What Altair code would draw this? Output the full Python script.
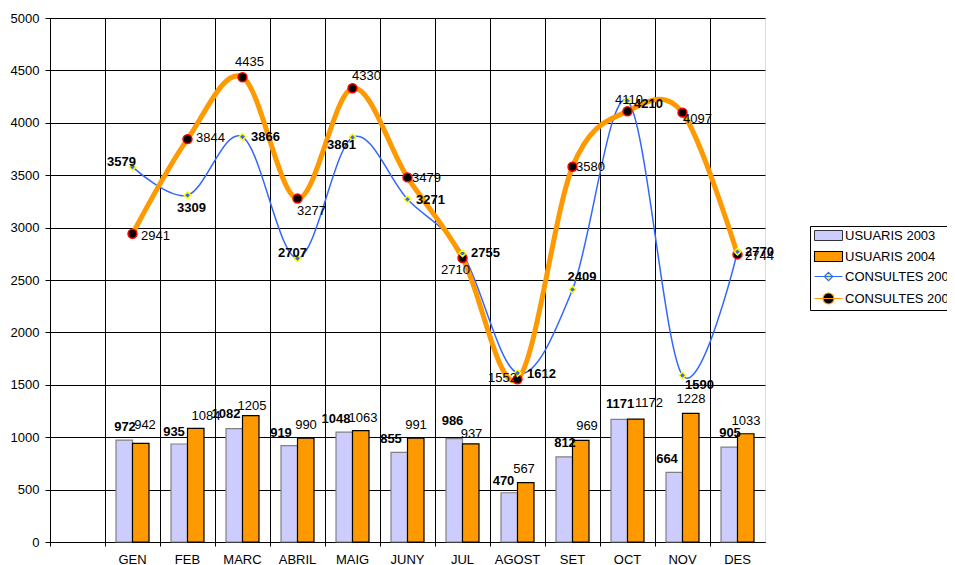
import altair as alt
import pandas as pd

# ---------------- data ----------------
months = ["GEN", "FEB", "MARC", "ABRIL", "MAIG", "JUNY", "JUL", "AGOST", "SET", "OCT", "NOV", "DES"]
usuaris_2003 = [972, 935, 1082, 919, 1048, 855, 986, 470, 812, 1171, 664, 905]
usuaris_2004 = [942, 1084, 1205, 990, 1063, 991, 937, 567, 969, 1172, 1228, 1033]
consultes_2003 = [3579, 3309, 3866, 2707, 3861, 3271, 2755, 1612, 2409, 4210, 1590, 2770]
consultes_2004 = [2941, 3844, 4435, 3277, 4330, 3479, 2710, 1552, 3580, 4110, 4097, 2744]
series_names = ["USUARIS 2003", "USUARIS 2004", "CONSULTES 2003", "CONSULTES 2004"]
y_ticks = [0, 500, 1000, 1500, 2000, 2500, 3000, 3500, 4000, 4500, 5000]
blank_category = " "

# ---------------- label placement (style, pixels relative to the point) ----------------
bar_lab_dx_2003 = [-7.5, -13.5, -16.5, -16.5, -16.5, -16.5, -10, -14, -7.5, -7.5, -15.5, -7.5]
bar_lab_dy_2003 = [-13, -12, -15, -13, -13, -13, -18, -12, -14, -15, -13, -14]
bar_lab_dx_2004 = [12.5, 18.5, 9.5, 8.5, 10.5, 8.5, 9, 6.5, 14.5, 21.5, 8.5, 8.5]
bar_lab_dy_2004 = [-18, -12, -10, -13, -13, -13, -10, -14, -14, -16, -14, -13]
line_lab_al_2003 = ["right", "center", "left", "right", "right", "left", "left", "left", "center", "left", "left", "left"]
line_lab_dx_2003 = [3.5, 4, 8.5, 9.5, 3.5, 8.5, 8.5, 9.5, 9.5, 6.5, 2.5, 7.5]
line_lab_dy_2003 = [-5, 13, 0, -5, 8, 1, 0, 1, -12.5, 3, 10, 0]
line_lab_al_2004 = ["left", "left", "center", "left", "left", "left", "right", "right", "left", "center", "left", "left"]
line_lab_dx_2004 = [8.5, 8.5, 7, -0.5, -0.5, 4.5, 7.5, -0.5, 3.5, 1.5, 0.5, 7.5]
line_lab_dy_2004 = [2, -1, -15, 12, -12, 1, 12, -1, 0, -11, 6, 2]

FONT = "Liberation Sans"
C_U03 = "#CCCCFF"
C_U04 = "#FF9900"
C_L03 = "#3366FF"
C_L04 = "#FF9900"

bars_df = pd.DataFrame({
    "month": months * 2,
    "series": [series_names[0]] * 12 + [series_names[1]] * 12,
    "value": usuaris_2003 + usuaris_2004,
    "dx": bar_lab_dx_2003 + bar_lab_dx_2004,
    "dy": bar_lab_dy_2003 + bar_lab_dy_2004,
})
lines_df = pd.DataFrame({
    "month": months * 2,
    "series": [series_names[2]] * 12 + [series_names[3]] * 12,
    "value": consultes_2003 + consultes_2004,
    "al": line_lab_al_2003 + line_lab_al_2004,
    "dx": line_lab_dx_2003 + line_lab_dx_2004,
    "dy": line_lab_dy_2003 + line_lab_dy_2004,
})
legend_df = pd.DataFrame({"series": series_names})

x_enc = alt.X(
    "month:N",
    scale=alt.Scale(domain=[blank_category] + months, paddingInner=0, paddingOuter=0),
    axis=alt.Axis(title=None, bandPosition=0, grid=True, gridColor="black", gridOpacity=1,
                  domainColor="black", tickColor="black", tickSize=4, labelPadding=7,
                  labelFont=FONT, labelFontSize=13, labelColor="black", labelAngle=0),
)
x_plain = alt.X("month:N")
y_enc = alt.Y(
    "value:Q",
    scale=alt.Scale(domain=[0, 5000], nice=False),
    axis=alt.Axis(title=None, values=y_ticks, format="d", grid=True, gridColor="black", gridOpacity=1,
                  domainColor="black", tickColor="black", tickSize=5, labelPadding=6,
                  labelFont=FONT, labelFontSize=13, labelColor="black"),
)
y_plain = alt.Y("value:Q")

is03 = "datum.series == 'USUARIS 2003'"

bars = alt.Chart(bars_df).mark_bar(strokeWidth=1.2).encode(
    x=x_enc,
    y=y_enc,
    xOffset=alt.XOffset("series:N", scale=alt.Scale(domain=series_names[:2], paddingInner=0, paddingOuter=0.667)),
    fill=alt.condition(is03, alt.value(C_U03), alt.value(C_U04)),
    stroke=alt.condition(is03, alt.value("#808080"), alt.value("black")),
)

bar_text_03 = alt.Chart(bars_df).transform_filter(is03).mark_text(
    font=FONT, fontSize=13, fontWeight="bold", color="black", baseline="middle",
    dx=alt.expr("datum.dx"), dy=alt.expr("datum.dy"),
).encode(x=x_plain, y=y_plain, text=alt.Text("value:Q", format="d"))

bar_text_04 = alt.Chart(bars_df).transform_filter("!(" + is03 + ")").mark_text(
    font=FONT, fontSize=13, color="black", baseline="middle",
    dx=alt.expr("datum.dx"), dy=alt.expr("datum.dy"),
).encode(x=x_plain, y=y_plain, text=alt.Text("value:Q", format="d"))

f03 = "datum.series == 'CONSULTES 2003'"
f04 = "datum.series == 'CONSULTES 2004'"

line03 = alt.Chart(lines_df).transform_filter(f03).mark_line(
    interpolate="cardinal", color=C_L03, strokeWidth=1.5
).encode(x=x_plain, y=y_plain)
line04 = alt.Chart(lines_df).transform_filter(f04).mark_line(
    interpolate="cardinal", color=C_L04, strokeWidth=5
).encode(x=x_plain, y=y_plain)
pts04 = alt.Chart(lines_df).transform_filter(f04).mark_point(
    shape="circle", filled=True, fill="black", stroke="#FF0000", strokeWidth=1.5, size=80, opacity=1
).encode(x=x_plain, y=y_plain)
pts03 = alt.Chart(lines_df).transform_filter(f03).mark_point(
    shape="diamond", filled=True, fill=C_L03, stroke="#FFFF00", strokeWidth=1.5, size=45, opacity=1
).encode(x=x_plain, y=y_plain)

line_text_03 = alt.Chart(lines_df).transform_filter(f03).mark_text(
    font=FONT, fontSize=13, fontWeight="bold", color="black", baseline="middle",
    align=alt.expr("datum.al"), dx=alt.expr("datum.dx"), dy=alt.expr("datum.dy"),
).encode(x=x_plain, y=y_plain, text=alt.Text("value:Q", format="d"))
line_text_04 = alt.Chart(lines_df).transform_filter(f04).mark_text(
    font=FONT, fontSize=13, color="black", baseline="middle",
    align=alt.expr("datum.al"), dx=alt.expr("datum.dx"), dy=alt.expr("datum.dy"),
).encode(x=x_plain, y=y_plain, text=alt.Text("value:Q", format="d"))

# legend symbols: custom paths (unit = 5 px at symbolSize 100), 28 px wide
legend_paths = [
    "M-1,-1L4.6,-1L4.6,1L-1,1Z",
    "M-1,-1L4.6,-1L4.6,1L-1,1Z",
    "M-1,0L4.6,0M1.8,-0.84L2.64,0L1.8,0.84L0.96,0Z",
    "M-1,0L4.6,0M2.9,0A1.1,1.1,0,1,1,0.7,0A1.1,1.1,0,1,1,2.9,0Z",
]
leg = alt.Legend(
    title=None, orient="none", legendX=760, legendY=208, direction="vertical",
    labelFont=FONT, labelFontSize=13, labelColor="black", labelOffset=19,
    symbolSize=100, symbolOpacity=1, rowPadding=6, padding=3,
    strokeColor="black", fillColor="white",
)
legend_layer = alt.Chart(legend_df).mark_point(opacity=0, filled=True).encode(
    fill=alt.Fill("series:N", title=None, legend=leg,
                  scale=alt.Scale(domain=series_names, range=[C_U03, C_U04, "#FFFF00", "black"])),
    stroke=alt.Stroke("series:N", title=None, legend=leg,
                      scale=alt.Scale(domain=series_names, range=["#333333", "black", C_L03, C_L04])),
    shape=alt.Shape("series:N", title=None, legend=leg,
                    scale=alt.Scale(domain=series_names, range=legend_paths)),
    strokeWidth=alt.StrokeWidth("series:N", title=None, legend=leg,
                                scale=alt.Scale(domain=series_names, range=[1, 1.2, 1.5, 4])),
)

chart = alt.layer(
    bars, line03, line04, pts04, pts03, bar_text_03, bar_text_04, line_text_03, line_text_04, legend_layer
).properties(
    width=715, height=524,
    autosize=alt.AutoSizeParams(type="none"),
    padding={"left": 42, "top": 10, "right": 182, "bottom": 27},
).configure_view(stroke="black", strokeWidth=1).configure(background="white")

chart.save("out.html", embed_options={"renderer": "svg", "actions": False})
